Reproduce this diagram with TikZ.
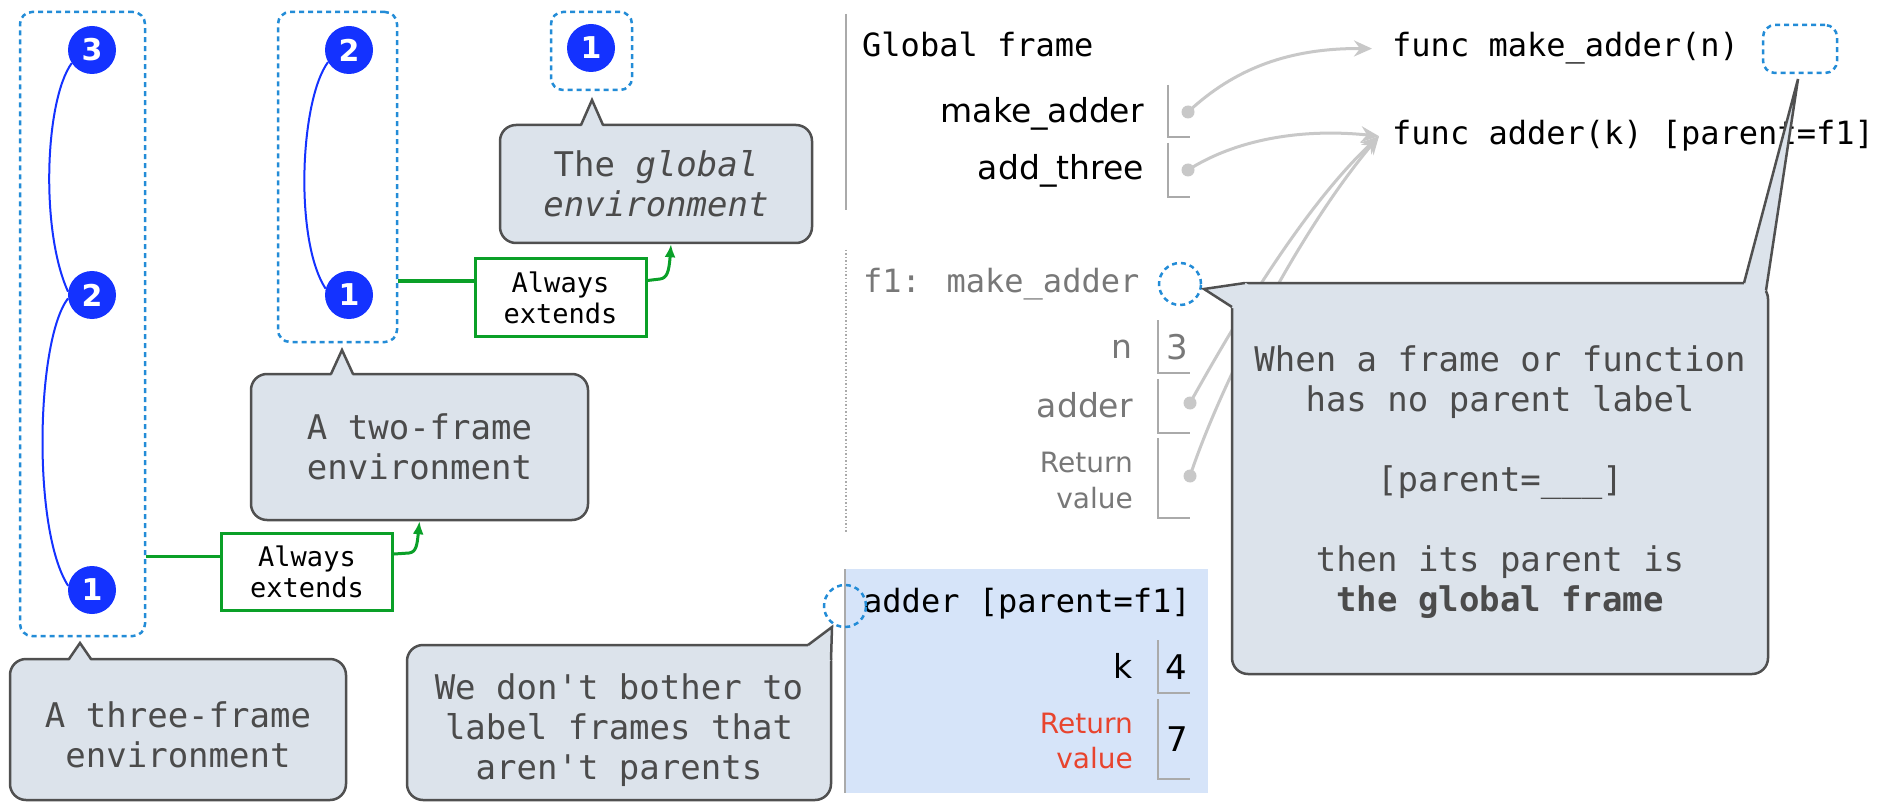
\documentclass[tikz,border=0pt]{standalone}
\usepackage{fontspec}
\setmainfont{DejaVu Sans}
\newfontfamily\codefont{DejaVu Sans Mono}
\usetikzlibrary{arrows.meta}
\definecolor{dashblue}{RGB}{35,140,215}
\definecolor{cblue}{RGB}{20,50,255}
\definecolor{cfill}{RGB}{220,227,235}
\definecolor{cborder}{RGB}{80,80,80}
\definecolor{ctext}{RGB}{75,75,75}
\definecolor{cgreen}{RGB}{10,160,40}
\definecolor{arrowgray}{RGB}{200,200,200}
\definecolor{slotgray}{RGB}{170,170,170}
\definecolor{fgray}{RGB}{120,120,120}
\definecolor{framebg}{RGB}{214,228,249}
\definecolor{retred}{RGB}{232,68,46}
\newcommand\calltip[3]{%
  \fill[cfill] (#1-11,#3+2.5) -- (#1,#2) -- (#1+11,#3+2.5) -- cycle;
  \draw[cline] (#1-11,#3) -- (#1,#2) -- (#1+11,#3);}
\tikzset{
  envbox/.style={draw=dashblue, line width=2.5pt, dash pattern=on 5pt off 4pt, rounded corners=12pt, inner sep=0pt},
  dashcircle/.style={circle, draw=dashblue, line width=2.5pt, dash pattern=on 5pt off 4pt, minimum size=42pt, inner sep=0pt},
  num/.style={circle, fill=cblue, text=white, font=\bfseries\fontsize{30}{30}\selectfont, minimum size=48pt, inner sep=0pt},
  bcurve/.style={draw=cblue, line width=2pt},
  calloutbox/.style={draw=cborder, fill=cfill, line width=2.5pt, rounded corners=16pt, text=ctext, font=\codefont\fontsize{34}{40}\selectfont, align=center, inner sep=0pt},
  callouttext/.style={text=ctext, font=\codefont\fontsize{34}{40}\selectfont, align=center, inner sep=0pt},
  cline/.style={draw=cborder, line width=2.5pt, line join=miter},
  extbox/.style={draw=cgreen, fill=white, line width=3pt, font=\codefont\fontsize{27}{31}\selectfont, align=center, inner sep=0pt, minimum width=171pt, minimum height=77pt},
  gline/.style={draw=cgreen, line width=3pt},
  garrow/.style={gline, -{Latex[length=13pt,width=11pt]}},
  grayarrow/.style={draw=arrowgray, line width=3pt, -{Stealth[length=18pt,width=16pt,inset=6pt]}},
  codetext/.style={font=\codefont\fontsize{32}{38}\selectfont, inner sep=0pt},
  vartext/.style={font=\fontsize{33}{38}\selectfont, inner sep=0pt},
  valtext/.style={font=\fontsize{34}{38}\selectfont, inner sep=0pt},
  rettext/.style={font=\fontsize{28}{32}\selectfont, inner sep=0pt},
  slot/.style={draw=slotgray, line width=2pt},
  dot/.style={circle, fill=arrowgray, minimum size=13pt, inner sep=0pt}
}
\begin{document}
\begin{tikzpicture}[x=1pt,y=-1pt]
\useasboundingbox (0,0) rectangle (1881,802);
\fill[white] (0,0) rectangle (1881,802);

% environment boxes
\node[envbox, minimum width=125pt, minimum height=624pt] (env3) at (82.5,324) {};
\node[envbox, minimum width=119pt, minimum height=330pt] (env2) at (337.5,177) {};
\node[envbox, minimum width=81pt, minimum height=78pt] (envg) at (591.5,51) {};

% numbered frames
\node[num] (t3) at (92,50) {3};
\node[num] (t2) at (92,295) {2};
\node[num] (t1) at (92,590) {1};
\node[num] (w2) at (349,50) {2};
\node[num] (w1) at (349,295) {1};
\node[num] (g1) at (591,48) {1};
\draw[bcurve] (t3.213) .. controls (45,100) and (40,230) .. (t2.172);
\draw[bcurve] (t2.188) .. controls (36,340) and (32,530) .. (t1.170);
\draw[bcurve] (w2.210) .. controls (300,100) and (294,240) .. (w1.165);

% callouts on the left
\node[calloutbox, minimum width=336pt, minimum height=141pt] (c3) at (178,729.5) {};
\node[callouttext] (c3t) at ([yshift=-5pt]c3.center) {A three-frame\\environment};
\calltip{80}{643}{659}
\node[calloutbox, minimum width=337pt, minimum height=146pt] (c2) at (419.5,447) {A two-frame\\environment};
\calltip{342}{350}{374}
\node[calloutbox, minimum width=312pt, minimum height=118pt] (gb) at (656,184) {The \textit{global}\\\textit{environment}};
\calltip{592}{100}{125}

% always extends
\node[extbox] (ae1) at (307,572) {Always\\extends};
\node[extbox] (ae2) at (560.5,297.5) {Always\\extends};
\coordinate (a1in) at ([yshift=16pt]ae1.west);
\draw[gline] (a1in -| env3.east) -- (a1in);
\coordinate (a1out) at ([yshift=18pt]ae1.east);
\draw[garrow] (a1out) -- (409,553) .. controls (416,552) and (417,546) .. (c2.south);
\coordinate (a2in) at ([yshift=16.5pt]ae2.west);
\draw[gline] (a2in -| env2.east) -- (a2in);
\coordinate (a2out) at ([yshift=17pt]ae2.east);
\draw[garrow] (a2out) -- (660,279) .. controls (667,278) and (669,272) .. ([xshift=15pt]gb.south);

% global frame
\draw[slotgray, line width=2pt] (846,14) -- (846,210);
\node[codetext, anchor=base west] (gf) at (862,57) {Global frame};
\node[vartext, anchor=base east] (vma) at (1144,123) {make\_adder};
\draw[slot] (1168,85) -- (1168,137) -- (1190,137);
\node[vartext, anchor=base east] (vat) at (1144,180) {add\_three};
\draw[slot] (1168,143) -- (1168,197) -- (1190,197);

% function objects
\node[codetext, anchor=base west] (fm) at (1392,57) {func make\_adder(n)};
\node[codetext, anchor=base west] (fa) at (1392,145) {func adder(k) [parent=f1]};
\node[envbox, minimum width=74pt, minimum height=48pt] (fmp) at (1800,49) {};

% f1 frame
\draw[slotgray, line width=1.5pt, dotted] (846,250) -- (846,532);
\node[codetext, text=fgray, anchor=base west] (f1t) at (863,292) {f1: make\_adder};
\node[dashcircle] (f1p) at (1180,284) {};
\node[vartext, text=fgray, anchor=base east] (vn) at (1133,358) {n};
\draw[slot] (1158,320) -- (1158,373) -- (1190,373);
\node[valtext, text=fgray, anchor=base] (v3) at (1177,359) {3};
\node[vartext, text=fgray, anchor=base east] (vad) at (1133,417) {adder};
\draw[slot] (1158,379) -- (1158,433) -- (1190,433);
\node[rettext, text=fgray, anchor=base east] (r1a) at (1133,472) {Return};
\node[rettext, text=fgray, anchor=base east] (r1b) at (1133,508) {value};
\draw[slot] (1158,438) -- (1158,518) -- (1190,518);

% adder frame
\fill[framebg] (845,569) rectangle (1208,793);
\draw[slotgray, line width=2pt] (845,569) -- (845,793);
\node[codetext, anchor=base west] (aft) at (863,612) {adder [parent=f1]};
\node[vartext, anchor=base east] (vk) at (1133,678) {k};
\draw[slot] (1158,640) -- (1158,693) -- (1190,693);
\node[valtext, anchor=base] (v4) at (1176,679) {4};
\node[rettext, text=retred, anchor=base east] (r2a) at (1133,733) {Return};
\node[rettext, text=retred, anchor=base east] (r2b) at (1133,768) {value};
\draw[slot] (1158,699) -- (1158,779) -- (1190,779);
\node[valtext, anchor=base] (v7) at (1177,751) {7};
\node[dashcircle] (adp) at (845,606) {};

% pointers (gray arrows)
\node[dot] (dma) at (1188,112) {};
\node[dot] (dat) at (1188,170) {};
\node[dot] (dad) at (1190,403) {};
\node[dot] (drv) at (1190,476) {};
\draw[grayarrow] (dma.center) .. controls (1235,68) and (1290,48) .. ([xshift=-20pt]fm.west);
\draw[grayarrow] (dat.center) .. controls (1235,140) and (1300,128) .. ([xshift=-13pt]fa.west);
\draw[grayarrow] (dad.center) .. controls (1228,335) and (1300,210) .. ([xshift=-13pt]fa.west);
\draw[grayarrow] (drv.center) .. controls (1222,380) and (1300,230) .. ([xshift=-13pt]fa.west);

% big callout
\node[calloutbox, minimum width=536pt, minimum height=391pt] (big) at (1500,478.5) {};
\node[callouttext] (bigt) at ([yshift=-4pt]big.center) {When a frame or function\\has no parent label\\[40pt]{}[parent=\_\_\_]\\[40pt]then its parent is\\\textbf{the global frame}};
\fill[cfill] (1246,283) -- (1204,289) -- (1232,308) -- (1236,308) -- (1250,286) -- cycle;
\draw[cline] (1245,283) -- (1204,289) -- (1232,307);
\fill[cfill] (1744,283) -- (1798,79) -- (1766,290.5) -- (1763,293) -- (1750,287) -- (1744,286) -- cycle;
\draw[cline] (1744,283) -- (1798,79) -- (1766,290.5);

% bottom callout
\node[calloutbox, minimum width=424pt, minimum height=155pt] (wd) at (619,722.5) {};
\node[callouttext] (wdt) at ([yshift=-8pt]wd.center) {We don't bother to\\label frames that\\aren't parents};
\fill[cfill] (808,645) -- (832,627) -- (831,660) -- (827,663) -- (823,650) -- (808,648) -- cycle;
\draw[cline] (808,645) -- (832,627) -- (831,660);
\end{tikzpicture}
\end{document}
